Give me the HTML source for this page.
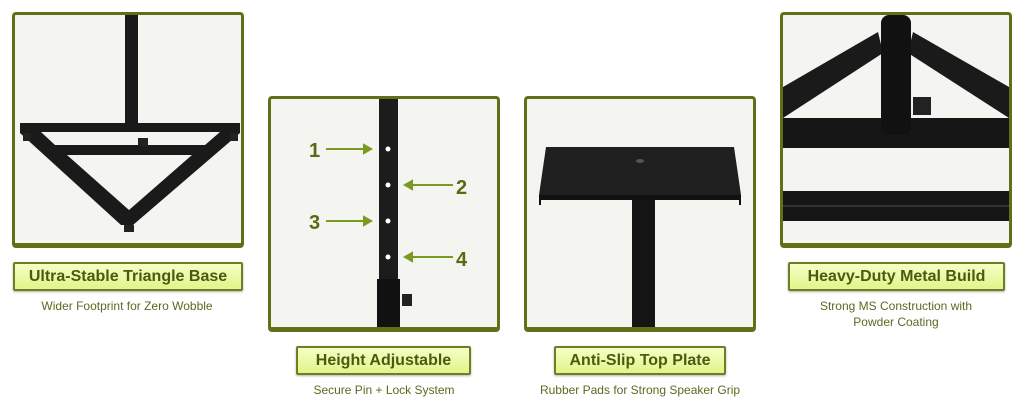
<!DOCTYPE html>
<html><head><style>
body{margin:0;width:1024px;height:420px;background:#fff;position:relative;overflow:hidden;font-family:"Liberation Sans",sans-serif}
.p{position:absolute;width:226px;height:228px;border:3px solid #5e7018;border-bottom-width:5px;border-radius:4px;background:#f4f4f1;overflow:hidden}
.p svg{position:absolute;left:0;top:0}
.l{position:absolute;height:25px;border:2px solid #6d7f22;border-radius:2px;background:linear-gradient(#f4ffc4,#e0f58a);color:#4b5a12;font-weight:bold;font-size:16px;line-height:25px;text-align:center;box-shadow:0 1px 2px rgba(0,0,0,.3)}
.c{position:absolute;color:#5a6a20;font-size:12px;text-align:center;line-height:16px}
.n{font:bold 20px "Liberation Sans",sans-serif;fill:#5a6a12}
</style></head><body>
<div class="p" style="left:12px;top:12px">
<svg width="226" height="228"><rect x="110" y="0" width="13" height="142" fill="#1a1a1a"/>
<polygon points="5,108 225,108 225,118 118,210 106,210 5,118" fill="#1a1a1a"/>
<polygon points="26,117 205,117 190,130 40,130" fill="#f4f4f1"/>
<polygon points="52,140 177,140 114,195" fill="#f4f4f1"/>
<rect x="123" y="123" width="10" height="8" fill="#222"/>
<rect x="8" y="118" width="8" height="8" fill="#222"/><rect x="215" y="118" width="8" height="8" fill="#222"/><rect x="109" y="210" width="10" height="7" fill="#222"/></svg></div>
<div class="l" style="left:13px;top:262px;width:226px">Ultra-Stable Triangle Base</div>
<div class="c" style="left:12px;top:298px;width:230px">Wider Footprint for Zero Wobble</div>

<div class="p" style="left:268px;top:96px">
<svg width="226" height="228"><rect x="108" y="0" width="19" height="180" fill="#1c1c1c"/><rect x="106" y="180" width="23" height="50" fill="#111"/>
<rect x="131" y="195" width="10" height="12" fill="#222"/>
<g fill="#fff"><circle cx="117" cy="50" r="2.5"/><circle cx="117" cy="86" r="2.5"/><circle cx="117" cy="122" r="2.5"/><circle cx="117" cy="158" r="2.5"/></g>
<g stroke="#7a9a20" stroke-width="2" fill="#7a9a20"><line x1="55" y1="50" x2="95" y2="50"/><polygon points="100,50 93,46 93,54"/>
<line x1="135" y1="86" x2="182" y2="86"/><polygon points="134,86 141,82 141,90"/>
<line x1="55" y1="122" x2="95" y2="122"/><polygon points="100,122 93,118 93,126"/>
<line x1="135" y1="158" x2="182" y2="158"/><polygon points="134,158 141,154 141,162"/></g>
<text class="n" x="38" y="58">1</text><text class="n" x="185" y="95">2</text><text class="n" x="38" y="130">3</text><text class="n" x="185" y="167">4</text></svg></div>
<div class="l" style="left:296px;top:346px;width:171px">Height Adjustable</div>
<div class="c" style="left:268px;top:382px;width:232px">Secure Pin + Lock System</div>

<div class="p" style="left:524px;top:96px">
<svg width="226" height="228"><polygon points="19,48 207,48 214,96 12,96" fill="#1f1f1f"/>
<rect x="12" y="96" width="202" height="5" fill="#111"/><rect x="12" y="96" width="2" height="10" fill="#111"/><rect x="212" y="96" width="2" height="10" fill="#111"/>
<rect x="105" y="101" width="23" height="130" fill="#151515"/><ellipse cx="113" cy="62" rx="4" ry="2" fill="#555"/></svg></div>
<div class="l" style="left:554px;top:346px;width:168px">Anti-Slip Top Plate</div>
<div class="c" style="left:520px;top:382px;width:240px">Rubber Pads for Strong Speaker Grip</div>

<div class="p" style="left:780px;top:12px">
<svg width="226" height="228"><polygon points="0,72 95,17 100,38 0,103" fill="#1a1a1a"/><polygon points="226,72 130,17 125,38 226,103" fill="#1a1a1a"/>
<rect x="0" y="103" width="226" height="30" fill="#161616"/><rect x="98" y="0" width="30" height="120" rx="8" fill="#111"/>
<rect x="130" y="82" width="18" height="18" fill="#222"/>
<rect x="0" y="176" width="226" height="30" fill="#161616"/><rect x="0" y="190" width="226" height="2" fill="#333"/></svg></div>
<div class="l" style="left:788px;top:262px;width:213px">Heavy-Duty Metal Build</div>
<div class="c" style="left:780px;top:298px;width:232px">Strong MS Construction with<br>Powder Coating</div>
</body></html>
